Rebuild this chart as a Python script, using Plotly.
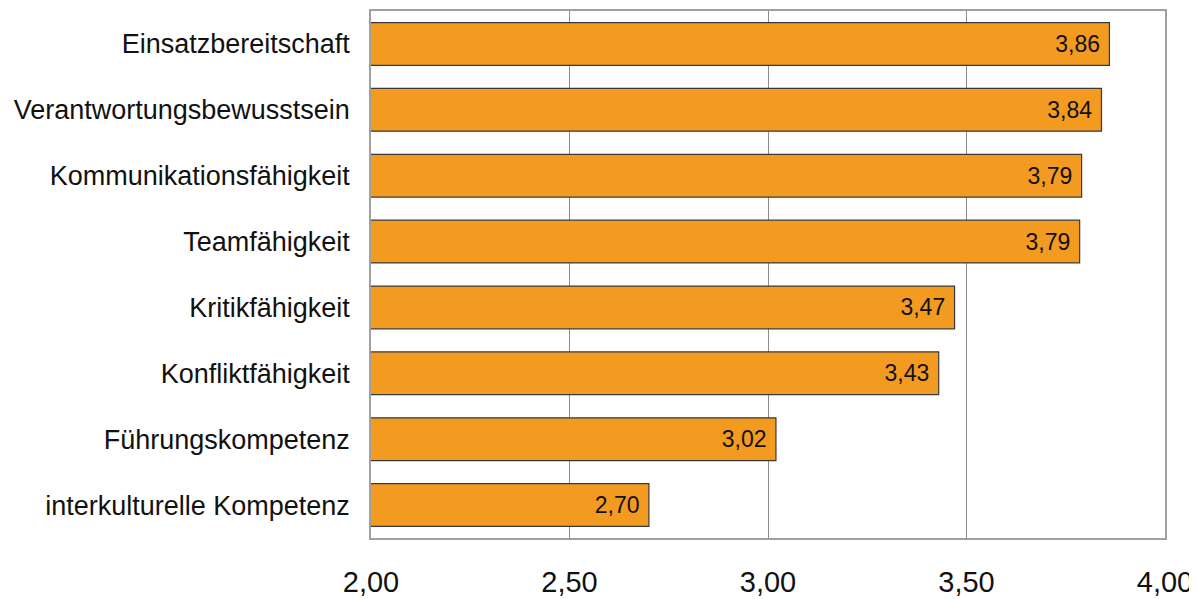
import plotly.graph_objects as go

categories = ["Einsatzbereitschaft", "Verantwortungsbewusstsein", "Kommunikationsfähigkeit",
              "Teamfähigkeit", "Kritikfähigkeit", "Konfliktfähigkeit",
              "Führungskompetenz", "interkulturelle Kompetenz"]
values = [3.86, 3.84, 3.79, 3.785, 3.47, 3.43, 3.02, 2.70]
labels = ["3,86", "3,84", "3,79", "3,79", "3,47", "3,43", "3,02", "2,70"]
tick_vals = [2.0, 2.5, 3.0, 3.5, 4.0]
tick_text = ["2,00", "2,50", "3,00", "3,50", "4,00"]

fig = go.Figure(go.Bar(
    y=categories, x=values, base=0, orientation="h",
    marker=dict(color="#F39A21", line=dict(color="#3a3a3a", width=1.2)),
    text=[t + "\u00a0" for t in labels], textposition="inside", insidetextanchor="end",
    textfont=dict(family="Liberation Sans, Arial", size=23, color="#111"),
    constraintext="none", cliponaxis=True,
))

fig.update_layout(
    width=1189, height=591,
    margin=dict(l=363, r=32, t=1, b=61),
    paper_bgcolor="white", plot_bgcolor="white",
    bargap=0.35, showlegend=False,
    font=dict(family="Liberation Sans, Arial", color="#111"),
)
fig.update_xaxes(
    range=[2.0, 4.0], tickvals=tick_vals, ticktext=tick_text,
    tickfont=dict(size=29, color="#111"),
    showgrid=True, gridcolor="#8c8c8c", gridwidth=1,
    showline=True, linecolor="#a0a0a0", linewidth=1.5, mirror=True,
    zeroline=False, ticks="outside", ticklen=17, tickcolor="rgba(0,0,0,0)",
)
fig.update_yaxes(
    categoryorder="array", categoryarray=categories[::-1],
    tickfont=dict(size=27, color="#111"),
    showline=True, linecolor="#a0a0a0", linewidth=1.5, mirror=True,
    ticks="outside", ticklen=14, tickcolor="rgba(0,0,0,0)",
)

fig.write_html("out.html", config={"displayModeBar": False})
